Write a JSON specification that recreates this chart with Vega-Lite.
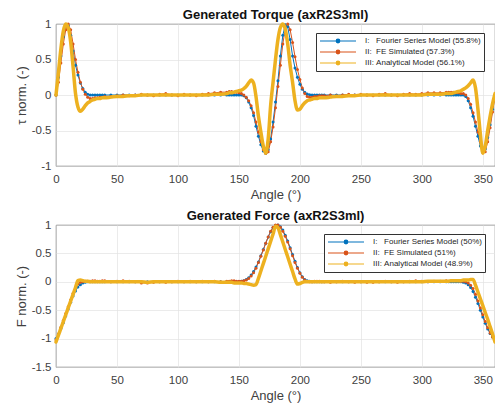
{
 "$schema": "https://vega.github.io/schema/vega-lite/v6.json",
 "padding": {"left": 14, "top": 8, "right": 1, "bottom": 0},
 "background": "white",
 "spacing": 7,
 "config": {
  "font": "Liberation Sans",
  "view": {"stroke": "#333333", "strokeWidth": 0.8},
  "axis": {"grid": true, "gridColor": "#e3e3e3", "gridWidth": 0.7, "domain": false, "ticks": false, "labelFont": "Liberation Sans", "labelFontSize": 11.5, "labelColor": "#404040", "labelPadding": 7, "labelFlush": false, "labelOverlap": false, "titleFont": "Liberation Sans", "titleFontSize": 13, "titleFontWeight": "normal", "titleColor": "#404040"},
  "axisX": {"titlePadding": 4},
  "axisY": {"titlePadding": 3, "labelPadding": 5},
  "title": {"font": "Liberation Sans", "fontSize": 13, "fontWeight": "bold", "color": "#111111", "offset": -4, "frame": "group"},
  "legend": {"orient": "none", "legendY": 9, "title": null, "symbolType": "M-4.5,0H4.5M0.45,0A0.45,0.45,0,1,1,-0.45,0A0.45,0.45,0,1,1,0.45,0M0.22,0A0.22,0.22,0,1,1,-0.22,0A0.22,0.22,0,1,1,0.22,0", "symbolSize": 64, "symbolStrokeWidth": 1.2, "symbolOffset": 14, "labelOffset": 22, "labelFontSize": 8, "labelFont": "Liberation Sans", "labelColor": "#262626", "strokeColor": "#333333", "fillColor": "white", "padding": 3, "rowPadding": 1}
 },
 "datasets": {
  "t": [
   {"s":"I","x":0,"v":0},{"s":"I","x":2,"v":0.25},{"s":"I","x":4,"v":0.55},{"s":"I","x":6,"v":0.82},{"s":"I","x":8,"v":0.98},{"s":"I","x":10,"v":0.98},{"s":"I","x":12,"v":0.84},{"s":"I","x":14,"v":0.62},{"s":"I","x":16,"v":0.42},{"s":"I","x":18,"v":0.28},{"s":"I","x":20,"v":0.17},{"s":"I","x":22,"v":0.09},{"s":"I","x":24,"v":0.04},{"s":"I","x":26,"v":0.01},{"s":"I","x":28,"v":0},{"s":"I","x":30,"v":0},{"s":"I","x":32,"v":0},{"s":"I","x":34,"v":0},{"s":"I","x":36,"v":0},{"s":"I","x":38,"v":0},{"s":"I","x":40,"v":0},
   {"s":"I","x":45,"v":0},{"s":"I","x":50,"v":0},{"s":"I","x":55,"v":0},{"s":"I","x":60,"v":0},{"s":"I","x":65,"v":0},{"s":"I","x":70,"v":0},{"s":"I","x":75,"v":0},{"s":"I","x":80,"v":0},{"s":"I","x":85,"v":0},{"s":"I","x":90,"v":0},{"s":"I","x":95,"v":0},{"s":"I","x":100,"v":0},{"s":"I","x":105,"v":0},{"s":"I","x":110,"v":0},{"s":"I","x":115,"v":0},{"s":"I","x":120,"v":0},{"s":"I","x":125,"v":0},{"s":"I","x":130,"v":0},{"s":"I","x":135,"v":0},
   {"s":"I","x":140,"v":0},{"s":"I","x":142,"v":0},{"s":"I","x":144,"v":0},{"s":"I","x":146,"v":0},{"s":"I","x":148,"v":0},{"s":"I","x":150,"v":0},{"s":"I","x":152,"v":0},{"s":"I","x":154,"v":-0.01},{"s":"I","x":156,"v":-0.04},{"s":"I","x":158,"v":-0.1},{"s":"I","x":160,"v":-0.18},{"s":"I","x":162,"v":-0.29},{"s":"I","x":164,"v":-0.44},{"s":"I","x":166,"v":-0.58},{"s":"I","x":168,"v":-0.7},{"s":"I","x":170,"v":-0.79},{"s":"I","x":172,"v":-0.82},{"s":"I","x":174,"v":-0.77},{"s":"I","x":176,"v":-0.62},{"s":"I","x":178,"v":-0.38},{"s":"I","x":180,"v":-0.1},{"s":"I","x":182,"v":0.2},{"s":"I","x":184,"v":0.55},{"s":"I","x":186,"v":0.84},{"s":"I","x":188,"v":0.99},{"s":"I","x":190,"v":0.96},{"s":"I","x":192,"v":0.78},{"s":"I","x":194,"v":0.55},{"s":"I","x":196,"v":0.38},{"s":"I","x":198,"v":0.25},{"s":"I","x":200,"v":0.15},{"s":"I","x":202,"v":0.08},{"s":"I","x":204,"v":0.04},{"s":"I","x":206,"v":0.015},{"s":"I","x":208,"v":0.005},{"s":"I","x":210,"v":0},{"s":"I","x":212,"v":0},{"s":"I","x":214,"v":0},{"s":"I","x":216,"v":0},{"s":"I","x":218,"v":0},{"s":"I","x":220,"v":0},
   {"s":"I","x":225,"v":0},{"s":"I","x":230,"v":0},{"s":"I","x":235,"v":0},{"s":"I","x":240,"v":0},{"s":"I","x":245,"v":0},{"s":"I","x":250,"v":0},{"s":"I","x":255,"v":0},{"s":"I","x":260,"v":0},{"s":"I","x":265,"v":0},{"s":"I","x":270,"v":0},{"s":"I","x":275,"v":0},{"s":"I","x":280,"v":0},{"s":"I","x":285,"v":0},{"s":"I","x":290,"v":0},{"s":"I","x":295,"v":0},{"s":"I","x":300,"v":0},{"s":"I","x":305,"v":0},{"s":"I","x":310,"v":0},{"s":"I","x":315,"v":0},
   {"s":"I","x":320,"v":0},{"s":"I","x":322,"v":0},{"s":"I","x":324,"v":0},{"s":"I","x":326,"v":0},{"s":"I","x":328,"v":0},{"s":"I","x":330,"v":0},{"s":"I","x":332,"v":0},{"s":"I","x":334,"v":0},{"s":"I","x":336,"v":-0.02},{"s":"I","x":338,"v":-0.08},{"s":"I","x":340,"v":-0.18},{"s":"I","x":342,"v":-0.3},{"s":"I","x":344,"v":-0.44},{"s":"I","x":346,"v":-0.58},{"s":"I","x":348,"v":-0.72},{"s":"I","x":350,"v":-0.81},{"s":"I","x":352,"v":-0.76},{"s":"I","x":354,"v":-0.6},{"s":"I","x":356,"v":-0.42},{"s":"I","x":358,"v":-0.2},{"s":"I","x":360,"v":0},

   {"s":"II","x":0,"v":0},{"s":"II","x":2,"v":0.18},{"s":"II","x":4,"v":0.45},{"s":"II","x":6,"v":0.72},{"s":"II","x":8,"v":0.92},{"s":"II","x":10,"v":1.0},{"s":"II","x":12,"v":0.92},{"s":"II","x":14,"v":0.72},{"s":"II","x":16,"v":0.5},{"s":"II","x":18,"v":0.32},{"s":"II","x":20,"v":0.18},{"s":"II","x":22,"v":0.08},{"s":"II","x":24,"v":0.01},{"s":"II","x":26,"v":-0.03},{"s":"II","x":28,"v":-0.05},{"s":"II","x":30,"v":-0.05},{"s":"II","x":32,"v":-0.04},{"s":"II","x":34,"v":-0.04},{"s":"II","x":36,"v":-0.03},{"s":"II","x":38,"v":-0.03},{"s":"II","x":40,"v":-0.02},
   {"s":"II","x":45,"v":-0.02},{"s":"II","x":50,"v":-0.01},{"s":"II","x":55,"v":0},{"s":"II","x":60,"v":-0.01},{"s":"II","x":65,"v":0},{"s":"II","x":70,"v":0.01},{"s":"II","x":75,"v":0},{"s":"II","x":80,"v":-0.01},{"s":"II","x":85,"v":0.01},{"s":"II","x":90,"v":0.02},{"s":"II","x":95,"v":0},{"s":"II","x":100,"v":-0.01},{"s":"II","x":105,"v":0.01},{"s":"II","x":110,"v":0},{"s":"II","x":115,"v":-0.01},{"s":"II","x":120,"v":0.01},{"s":"II","x":125,"v":0.02},{"s":"II","x":130,"v":0.03},{"s":"II","x":135,"v":0.04},
   {"s":"II","x":140,"v":0.04},{"s":"II","x":142,"v":0.05},{"s":"II","x":144,"v":0.05},{"s":"II","x":146,"v":0.04},{"s":"II","x":148,"v":0.04},{"s":"II","x":150,"v":0.03},{"s":"II","x":152,"v":0.02},{"s":"II","x":154,"v":0},{"s":"II","x":156,"v":-0.03},{"s":"II","x":158,"v":-0.08},{"s":"II","x":160,"v":-0.15},{"s":"II","x":162,"v":-0.25},{"s":"II","x":164,"v":-0.38},{"s":"II","x":166,"v":-0.52},{"s":"II","x":168,"v":-0.66},{"s":"II","x":170,"v":-0.77},{"s":"II","x":172,"v":-0.82},{"s":"II","x":174,"v":-0.8},{"s":"II","x":176,"v":-0.66},{"s":"II","x":178,"v":-0.45},{"s":"II","x":180,"v":-0.18},{"s":"II","x":182,"v":0.12},{"s":"II","x":184,"v":0.42},{"s":"II","x":186,"v":0.72},{"s":"II","x":188,"v":0.93},{"s":"II","x":190,"v":1.0},{"s":"II","x":192,"v":0.92},{"s":"II","x":194,"v":0.74},{"s":"II","x":196,"v":0.54},{"s":"II","x":198,"v":0.36},{"s":"II","x":200,"v":0.22},{"s":"II","x":202,"v":0.1},{"s":"II","x":204,"v":0.02},{"s":"II","x":206,"v":-0.02},{"s":"II","x":208,"v":-0.03},{"s":"II","x":210,"v":-0.03},{"s":"II","x":212,"v":-0.02},{"s":"II","x":214,"v":-0.02},{"s":"II","x":216,"v":-0.01},{"s":"II","x":218,"v":-0.01},{"s":"II","x":220,"v":-0.01},
   {"s":"II","x":225,"v":0},{"s":"II","x":230,"v":-0.01},{"s":"II","x":235,"v":0},{"s":"II","x":240,"v":0.01},{"s":"II","x":245,"v":0},{"s":"II","x":250,"v":0.01},{"s":"II","x":255,"v":0},{"s":"II","x":260,"v":-0.01},{"s":"II","x":265,"v":0.01},{"s":"II","x":270,"v":0.02},{"s":"II","x":275,"v":0},{"s":"II","x":280,"v":-0.01},{"s":"II","x":285,"v":0.01},{"s":"II","x":290,"v":0.02},{"s":"II","x":295,"v":0.01},{"s":"II","x":300,"v":0.02},{"s":"II","x":305,"v":0.03},{"s":"II","x":310,"v":0.03},{"s":"II","x":315,"v":0.03},
   {"s":"II","x":320,"v":0.04},{"s":"II","x":322,"v":0.04},{"s":"II","x":324,"v":0.04},{"s":"II","x":326,"v":0.04},{"s":"II","x":328,"v":0.03},{"s":"II","x":330,"v":0.03},{"s":"II","x":332,"v":0.02},{"s":"II","x":334,"v":0.02},{"s":"II","x":336,"v":0},{"s":"II","x":338,"v":-0.05},{"s":"II","x":340,"v":-0.13},{"s":"II","x":342,"v":-0.25},{"s":"II","x":344,"v":-0.38},{"s":"II","x":346,"v":-0.52},{"s":"II","x":348,"v":-0.66},{"s":"II","x":350,"v":-0.78},{"s":"II","x":352,"v":-0.8},{"s":"II","x":354,"v":-0.66},{"s":"II","x":356,"v":-0.46},{"s":"II","x":358,"v":-0.24},{"s":"II","x":360,"v":-0.02},

   {"s":"III","x":0,"v":0},{"s":"III","x":2,"v":0.32},{"s":"III","x":4,"v":0.65},{"s":"III","x":6,"v":0.9},{"s":"III","x":8,"v":1.0},{"s":"III","x":10,"v":0.95},{"s":"III","x":12,"v":0.75},{"s":"III","x":14,"v":0.4},{"s":"III","x":16,"v":0.02},{"s":"III","x":18,"v":-0.17},{"s":"III","x":20,"v":-0.23},{"s":"III","x":22,"v":-0.2},{"s":"III","x":24,"v":-0.15},{"s":"III","x":26,"v":-0.11},{"s":"III","x":28,"v":-0.09},{"s":"III","x":30,"v":-0.07},{"s":"III","x":32,"v":-0.06},{"s":"III","x":34,"v":-0.05},{"s":"III","x":36,"v":-0.05},{"s":"III","x":38,"v":-0.04},{"s":"III","x":40,"v":-0.04},
   {"s":"III","x":45,"v":-0.03},{"s":"III","x":50,"v":-0.02},{"s":"III","x":55,"v":-0.02},{"s":"III","x":60,"v":-0.01},{"s":"III","x":65,"v":-0.01},{"s":"III","x":70,"v":0},{"s":"III","x":75,"v":0},{"s":"III","x":80,"v":0},{"s":"III","x":85,"v":0},{"s":"III","x":90,"v":0},{"s":"III","x":95,"v":0},{"s":"III","x":100,"v":0},{"s":"III","x":105,"v":0},{"s":"III","x":110,"v":0},{"s":"III","x":115,"v":0},{"s":"III","x":120,"v":0},{"s":"III","x":125,"v":0},{"s":"III","x":130,"v":0.01},{"s":"III","x":135,"v":0.01},
   {"s":"III","x":140,"v":0.02},{"s":"III","x":142,"v":0.03},{"s":"III","x":144,"v":0.03},{"s":"III","x":146,"v":0.04},{"s":"III","x":148,"v":0.05},{"s":"III","x":150,"v":0.06},{"s":"III","x":152,"v":0.07},{"s":"III","x":154,"v":0.09},{"s":"III","x":156,"v":0.12},{"s":"III","x":158,"v":0.17},{"s":"III","x":160,"v":0.21},{"s":"III","x":162,"v":0.17},{"s":"III","x":164,"v":-0.02},{"s":"III","x":166,"v":-0.3},{"s":"III","x":168,"v":-0.52},{"s":"III","x":170,"v":-0.72},{"s":"III","x":172,"v":-0.82},{"s":"III","x":174,"v":-0.62},{"s":"III","x":176,"v":-0.15},{"s":"III","x":178,"v":0.18},{"s":"III","x":180,"v":0.5},{"s":"III","x":182,"v":0.78},{"s":"III","x":184,"v":0.95},{"s":"III","x":186,"v":1.0},{"s":"III","x":188,"v":0.93},{"s":"III","x":190,"v":0.72},{"s":"III","x":192,"v":0.42},{"s":"III","x":194,"v":0.18},{"s":"III","x":196,"v":-0.08},{"s":"III","x":198,"v":-0.21},{"s":"III","x":200,"v":-0.2},{"s":"III","x":202,"v":-0.15},{"s":"III","x":204,"v":-0.11},{"s":"III","x":206,"v":-0.08},{"s":"III","x":208,"v":-0.07},{"s":"III","x":210,"v":-0.06},{"s":"III","x":212,"v":-0.05},{"s":"III","x":214,"v":-0.05},{"s":"III","x":216,"v":-0.04},{"s":"III","x":218,"v":-0.04},{"s":"III","x":220,"v":-0.04},
   {"s":"III","x":225,"v":-0.03},{"s":"III","x":230,"v":-0.02},{"s":"III","x":235,"v":-0.02},{"s":"III","x":240,"v":-0.01},{"s":"III","x":245,"v":-0.01},{"s":"III","x":250,"v":0},{"s":"III","x":255,"v":0},{"s":"III","x":260,"v":0},{"s":"III","x":265,"v":0},{"s":"III","x":270,"v":0},{"s":"III","x":275,"v":0},{"s":"III","x":280,"v":0},{"s":"III","x":285,"v":0},{"s":"III","x":290,"v":0},{"s":"III","x":295,"v":0},{"s":"III","x":300,"v":0},{"s":"III","x":305,"v":0.01},{"s":"III","x":310,"v":0.01},{"s":"III","x":315,"v":0.01},
   {"s":"III","x":320,"v":0.02},{"s":"III","x":322,"v":0.02},{"s":"III","x":324,"v":0.02},{"s":"III","x":326,"v":0.03},{"s":"III","x":328,"v":0.04},{"s":"III","x":330,"v":0.05},{"s":"III","x":332,"v":0.06},{"s":"III","x":334,"v":0.08},{"s":"III","x":336,"v":0.1},{"s":"III","x":338,"v":0.13},{"s":"III","x":340,"v":0.17},{"s":"III","x":342,"v":0.21},{"s":"III","x":344,"v":0.1},{"s":"III","x":346,"v":-0.2},{"s":"III","x":348,"v":-0.55},{"s":"III","x":350,"v":-0.82},{"s":"III","x":352,"v":-0.72},{"s":"III","x":354,"v":-0.5},{"s":"III","x":356,"v":-0.3},{"s":"III","x":358,"v":-0.12},{"s":"III","x":360,"v":0.02}
  ],
  "f": [
   {"s":"I","x":0,"v":-1.0},{"s":"I","x":2,"v":-0.92},{"s":"I","x":4,"v":-0.82},{"s":"I","x":6,"v":-0.72},{"s":"I","x":8,"v":-0.6},{"s":"I","x":10,"v":-0.48},{"s":"I","x":12,"v":-0.36},{"s":"I","x":14,"v":-0.25},{"s":"I","x":16,"v":-0.16},{"s":"I","x":18,"v":-0.09},{"s":"I","x":20,"v":-0.05},{"s":"I","x":22,"v":-0.02},{"s":"I","x":24,"v":-0.01},{"s":"I","x":26,"v":0},{"s":"I","x":28,"v":0},{"s":"I","x":30,"v":0},{"s":"I","x":32,"v":0},{"s":"I","x":34,"v":0},{"s":"I","x":36,"v":0},{"s":"I","x":38,"v":0},{"s":"I","x":40,"v":0},
   {"s":"I","x":45,"v":0},{"s":"I","x":50,"v":0},{"s":"I","x":55,"v":0},{"s":"I","x":60,"v":0},{"s":"I","x":65,"v":0},{"s":"I","x":70,"v":0},{"s":"I","x":75,"v":0},{"s":"I","x":80,"v":0},{"s":"I","x":85,"v":0},{"s":"I","x":90,"v":0},{"s":"I","x":95,"v":0},{"s":"I","x":100,"v":0},{"s":"I","x":105,"v":0},{"s":"I","x":110,"v":0},{"s":"I","x":115,"v":0},{"s":"I","x":120,"v":0},{"s":"I","x":125,"v":0},{"s":"I","x":130,"v":0},{"s":"I","x":135,"v":0},
   {"s":"I","x":140,"v":0},{"s":"I","x":142,"v":0},{"s":"I","x":144,"v":0},{"s":"I","x":146,"v":0},{"s":"I","x":148,"v":0},{"s":"I","x":150,"v":0},{"s":"I","x":152,"v":0.01},{"s":"I","x":154,"v":0.02},{"s":"I","x":156,"v":0.04},{"s":"I","x":158,"v":0.07},{"s":"I","x":160,"v":0.12},{"s":"I","x":162,"v":0.18},{"s":"I","x":164,"v":0.26},{"s":"I","x":166,"v":0.35},{"s":"I","x":168,"v":0.46},{"s":"I","x":170,"v":0.57},{"s":"I","x":172,"v":0.68},{"s":"I","x":174,"v":0.79},{"s":"I","x":176,"v":0.88},{"s":"I","x":178,"v":0.95},{"s":"I","x":180,"v":0.99},{"s":"I","x":182,"v":1.0},{"s":"I","x":184,"v":0.97},{"s":"I","x":186,"v":0.91},{"s":"I","x":188,"v":0.82},{"s":"I","x":190,"v":0.72},{"s":"I","x":192,"v":0.6},{"s":"I","x":194,"v":0.48},{"s":"I","x":196,"v":0.36},{"s":"I","x":198,"v":0.25},{"s":"I","x":200,"v":0.16},{"s":"I","x":202,"v":0.09},{"s":"I","x":204,"v":0.04},{"s":"I","x":206,"v":0.02},{"s":"I","x":208,"v":0.01},{"s":"I","x":210,"v":0},{"s":"I","x":212,"v":0},{"s":"I","x":214,"v":0},{"s":"I","x":216,"v":0},{"s":"I","x":218,"v":0},{"s":"I","x":220,"v":0},
   {"s":"I","x":225,"v":0},{"s":"I","x":230,"v":0},{"s":"I","x":235,"v":0},{"s":"I","x":240,"v":0},{"s":"I","x":245,"v":0},{"s":"I","x":250,"v":0},{"s":"I","x":255,"v":0},{"s":"I","x":260,"v":0},{"s":"I","x":265,"v":0},{"s":"I","x":270,"v":0},{"s":"I","x":275,"v":0},{"s":"I","x":280,"v":0},{"s":"I","x":285,"v":0},{"s":"I","x":290,"v":0},{"s":"I","x":295,"v":0},{"s":"I","x":300,"v":0},{"s":"I","x":305,"v":0},{"s":"I","x":310,"v":0},{"s":"I","x":315,"v":0},
   {"s":"I","x":320,"v":0},{"s":"I","x":322,"v":0},{"s":"I","x":324,"v":0},{"s":"I","x":326,"v":0},{"s":"I","x":328,"v":0},{"s":"I","x":330,"v":0},{"s":"I","x":332,"v":0},{"s":"I","x":334,"v":-0.01},{"s":"I","x":336,"v":-0.02},{"s":"I","x":338,"v":-0.05},{"s":"I","x":340,"v":-0.1},{"s":"I","x":342,"v":-0.17},{"s":"I","x":344,"v":-0.27},{"s":"I","x":346,"v":-0.38},{"s":"I","x":348,"v":-0.5},{"s":"I","x":350,"v":-0.62},{"s":"I","x":352,"v":-0.73},{"s":"I","x":354,"v":-0.83},{"s":"I","x":356,"v":-0.91},{"s":"I","x":358,"v":-0.97},{"s":"I","x":360,"v":-1.0},

   {"s":"II","x":0,"v":-1.02},{"s":"II","x":2,"v":-0.92},{"s":"II","x":4,"v":-0.8},{"s":"II","x":6,"v":-0.68},{"s":"II","x":8,"v":-0.56},{"s":"II","x":10,"v":-0.44},{"s":"II","x":12,"v":-0.32},{"s":"II","x":14,"v":-0.2},{"s":"II","x":16,"v":-0.1},{"s":"II","x":18,"v":-0.04},{"s":"II","x":20,"v":-0.01},{"s":"II","x":22,"v":0},{"s":"II","x":24,"v":0.01},{"s":"II","x":26,"v":0.01},{"s":"II","x":28,"v":0.01},{"s":"II","x":30,"v":0.02},{"s":"II","x":32,"v":0.02},{"s":"II","x":34,"v":0.01},{"s":"II","x":36,"v":0.01},{"s":"II","x":38,"v":0.02},{"s":"II","x":40,"v":0.02},
   {"s":"II","x":45,"v":0},{"s":"II","x":50,"v":0.01},{"s":"II","x":55,"v":0.02},{"s":"II","x":60,"v":0.01},{"s":"II","x":65,"v":0},{"s":"II","x":70,"v":-0.02},{"s":"II","x":75,"v":-0.02},{"s":"II","x":80,"v":-0.01},{"s":"II","x":85,"v":0},{"s":"II","x":90,"v":-0.01},{"s":"II","x":95,"v":0},{"s":"II","x":100,"v":0.01},{"s":"II","x":105,"v":0},{"s":"II","x":110,"v":0.01},{"s":"II","x":115,"v":0},{"s":"II","x":120,"v":0.01},{"s":"II","x":125,"v":0},{"s":"II","x":130,"v":0.01},{"s":"II","x":135,"v":0},
   {"s":"II","x":140,"v":0.01},{"s":"II","x":142,"v":0.01},{"s":"II","x":144,"v":0.02},{"s":"II","x":146,"v":0.02},{"s":"II","x":148,"v":0.01},{"s":"II","x":150,"v":0.01},{"s":"II","x":152,"v":0.01},{"s":"II","x":154,"v":0.02},{"s":"II","x":156,"v":0.03},{"s":"II","x":158,"v":0.06},{"s":"II","x":160,"v":0.1},{"s":"II","x":162,"v":0.16},{"s":"II","x":164,"v":0.24},{"s":"II","x":166,"v":0.34},{"s":"II","x":168,"v":0.45},{"s":"II","x":170,"v":0.56},{"s":"II","x":172,"v":0.68},{"s":"II","x":174,"v":0.79},{"s":"II","x":176,"v":0.89},{"s":"II","x":178,"v":0.96},{"s":"II","x":180,"v":1.0},{"s":"II","x":182,"v":1.0},{"s":"II","x":184,"v":0.96},{"s":"II","x":186,"v":0.89},{"s":"II","x":188,"v":0.8},{"s":"II","x":190,"v":0.7},{"s":"II","x":192,"v":0.58},{"s":"II","x":194,"v":0.46},{"s":"II","x":196,"v":0.34},{"s":"II","x":198,"v":0.24},{"s":"II","x":200,"v":0.15},{"s":"II","x":202,"v":0.08},{"s":"II","x":204,"v":0.03},{"s":"II","x":206,"v":0.01},{"s":"II","x":208,"v":0},{"s":"II","x":210,"v":0},{"s":"II","x":212,"v":0.01},{"s":"II","x":214,"v":0.01},{"s":"II","x":216,"v":0.01},{"s":"II","x":218,"v":0},{"s":"II","x":220,"v":0},
   {"s":"II","x":225,"v":-0.01},{"s":"II","x":230,"v":0},{"s":"II","x":235,"v":0.01},{"s":"II","x":240,"v":0},{"s":"II","x":245,"v":-0.01},{"s":"II","x":250,"v":0},{"s":"II","x":255,"v":-0.01},{"s":"II","x":260,"v":-0.01},{"s":"II","x":265,"v":0},{"s":"II","x":270,"v":0.01},{"s":"II","x":275,"v":0},{"s":"II","x":280,"v":-0.01},{"s":"II","x":285,"v":0},{"s":"II","x":290,"v":0.01},{"s":"II","x":295,"v":0.02},{"s":"II","x":300,"v":0.01},{"s":"II","x":305,"v":0},{"s":"II","x":310,"v":0.01},{"s":"II","x":315,"v":0.01},
   {"s":"II","x":320,"v":0.02},{"s":"II","x":322,"v":0.01},{"s":"II","x":324,"v":0.02},{"s":"II","x":326,"v":0.02},{"s":"II","x":328,"v":0.02},{"s":"II","x":330,"v":0.02},{"s":"II","x":332,"v":0.01},{"s":"II","x":334,"v":0.01},{"s":"II","x":336,"v":0},{"s":"II","x":338,"v":-0.02},{"s":"II","x":340,"v":-0.06},{"s":"II","x":342,"v":-0.12},{"s":"II","x":344,"v":-0.22},{"s":"II","x":346,"v":-0.34},{"s":"II","x":348,"v":-0.46},{"s":"II","x":350,"v":-0.58},{"s":"II","x":352,"v":-0.7},{"s":"II","x":354,"v":-0.81},{"s":"II","x":356,"v":-0.9},{"s":"II","x":358,"v":-0.97},{"s":"II","x":360,"v":-1.02},

   {"s":"III","x":0,"v":-1.06},{"s":"III","x":2,"v":-0.94},{"s":"III","x":4,"v":-0.82},{"s":"III","x":6,"v":-0.7},{"s":"III","x":8,"v":-0.58},{"s":"III","x":10,"v":-0.46},{"s":"III","x":12,"v":-0.34},{"s":"III","x":14,"v":-0.22},{"s":"III","x":16,"v":-0.1},{"s":"III","x":18,"v":0.02},{"s":"III","x":20,"v":0.03},{"s":"III","x":22,"v":0.02},{"s":"III","x":24,"v":0.01},{"s":"III","x":26,"v":0.01},{"s":"III","x":28,"v":0},{"s":"III","x":30,"v":0},{"s":"III","x":32,"v":0},{"s":"III","x":34,"v":0},{"s":"III","x":36,"v":0},{"s":"III","x":38,"v":0},{"s":"III","x":40,"v":0},
   {"s":"III","x":45,"v":0},{"s":"III","x":50,"v":0},{"s":"III","x":55,"v":0},{"s":"III","x":60,"v":0},{"s":"III","x":65,"v":0},{"s":"III","x":70,"v":0},{"s":"III","x":75,"v":-0.01},{"s":"III","x":80,"v":0},{"s":"III","x":85,"v":0},{"s":"III","x":90,"v":0},{"s":"III","x":95,"v":0},{"s":"III","x":100,"v":0},{"s":"III","x":105,"v":0},{"s":"III","x":110,"v":0},{"s":"III","x":115,"v":0},{"s":"III","x":120,"v":0},{"s":"III","x":125,"v":0},{"s":"III","x":130,"v":0},{"s":"III","x":135,"v":-0.01},
   {"s":"III","x":140,"v":-0.01},{"s":"III","x":142,"v":-0.01},{"s":"III","x":144,"v":-0.01},{"s":"III","x":146,"v":-0.02},{"s":"III","x":148,"v":-0.02},{"s":"III","x":150,"v":-0.02},{"s":"III","x":152,"v":-0.02},{"s":"III","x":154,"v":-0.03},{"s":"III","x":156,"v":-0.03},{"s":"III","x":158,"v":-0.04},{"s":"III","x":160,"v":-0.05},{"s":"III","x":162,"v":-0.06},{"s":"III","x":164,"v":-0.05},{"s":"III","x":166,"v":0.06},{"s":"III","x":168,"v":0.19},{"s":"III","x":170,"v":0.32},{"s":"III","x":172,"v":0.45},{"s":"III","x":174,"v":0.58},{"s":"III","x":176,"v":0.71},{"s":"III","x":178,"v":0.84},{"s":"III","x":180,"v":0.98},{"s":"III","x":182,"v":0.95},{"s":"III","x":184,"v":0.83},{"s":"III","x":186,"v":0.7},{"s":"III","x":188,"v":0.57},{"s":"III","x":190,"v":0.44},{"s":"III","x":192,"v":0.31},{"s":"III","x":194,"v":0.18},{"s":"III","x":196,"v":0.05},{"s":"III","x":198,"v":-0.04},{"s":"III","x":200,"v":-0.03},{"s":"III","x":202,"v":-0.01},{"s":"III","x":204,"v":0},{"s":"III","x":206,"v":0},{"s":"III","x":208,"v":0},{"s":"III","x":210,"v":0},{"s":"III","x":212,"v":0},{"s":"III","x":214,"v":0},{"s":"III","x":216,"v":0},{"s":"III","x":218,"v":0},{"s":"III","x":220,"v":0},
   {"s":"III","x":225,"v":0},{"s":"III","x":230,"v":0},{"s":"III","x":235,"v":0},{"s":"III","x":240,"v":0},{"s":"III","x":245,"v":0},{"s":"III","x":250,"v":0},{"s":"III","x":255,"v":0},{"s":"III","x":260,"v":0},{"s":"III","x":265,"v":0},{"s":"III","x":270,"v":0},{"s":"III","x":275,"v":0},{"s":"III","x":280,"v":0},{"s":"III","x":285,"v":0},{"s":"III","x":290,"v":0},{"s":"III","x":295,"v":0},{"s":"III","x":300,"v":0},{"s":"III","x":305,"v":0.01},{"s":"III","x":310,"v":0.01},{"s":"III","x":315,"v":0.01},
   {"s":"III","x":320,"v":0.01},{"s":"III","x":322,"v":0.01},{"s":"III","x":324,"v":0.02},{"s":"III","x":326,"v":0.02},{"s":"III","x":328,"v":0.02},{"s":"III","x":330,"v":0.02},{"s":"III","x":332,"v":0.02},{"s":"III","x":334,"v":0.03},{"s":"III","x":336,"v":0.03},{"s":"III","x":338,"v":0.03},{"s":"III","x":340,"v":0.04},{"s":"III","x":342,"v":0.04},{"s":"III","x":344,"v":-0.06},{"s":"III","x":346,"v":-0.18},{"s":"III","x":348,"v":-0.3},{"s":"III","x":350,"v":-0.42},{"s":"III","x":352,"v":-0.54},{"s":"III","x":354,"v":-0.66},{"s":"III","x":356,"v":-0.79},{"s":"III","x":358,"v":-0.92},{"s":"III","x":360,"v":-1.06}
  ]
 },
 "vconcat": [
  {
   "title": "Generated Torque (axR2S3ml)",
   "width": 439, "height": 142,
   "data": {"name": "t"},
   "encoding": {
    "x": {"field": "x", "type": "quantitative", "scale": {"domain": [0, 360], "nice": false}, "axis": {"values": [0, 50, 100, 150, 200, 250, 300, 350], "title": "Angle (°)"}},
    "y": {"field": "v", "type": "quantitative", "scale": {"domain": [-1, 1], "nice": false}, "axis": {"values": [-1, -0.5, 0, 0.5, 1], "title": "τ norm. (-)", "labelExpr": "'' + datum.value"}},
    "color": {"field": "s", "type": "nominal", "scale": {"domain": ["I", "II", "III"], "range": ["#0072BD", "#D95319", "#EDB120"]}, "legend": {"legendX": 260, "labelExpr": "datum.label == 'I' ? 'I:\u00a0\u00a0\u00a0Fourier Series Model (55.8%)' : datum.label == 'II' ? 'II:\u00a0\u00a0FE Simulated (57.3%)' : 'III:\u00a0Analytical Model (56.1%)'"}}
   },
   "layer": [
    {"transform": [{"filter": "datum.s != 'III'"}], "mark": {"type": "line", "strokeWidth": 1, "point": {"filled": true, "size": 9}}},
    {"transform": [{"filter": "datum.s == 'III'"}], "mark": {"type": "line", "strokeWidth": 3.5, "interpolate": "monotone", "strokeCap": "round", "strokeJoin": "round"}}
   ]
  },
  {
   "title": "Generated Force (axR2S3ml)",
   "width": 439, "height": 142,
   "data": {"name": "f"},
   "encoding": {
    "x": {"field": "x", "type": "quantitative", "scale": {"domain": [0, 360], "nice": false}, "axis": {"values": [0, 50, 100, 150, 200, 250, 300, 350], "title": "Angle (°)"}},
    "y": {"field": "v", "type": "quantitative", "scale": {"domain": [-1.5, 1], "nice": false}, "axis": {"values": [-1.5, -1, -0.5, 0, 0.5, 1], "title": "F norm. (-)", "labelExpr": "'' + datum.value"}},
    "color": {"field": "s", "type": "nominal", "scale": {"domain": ["I", "II", "III"], "range": ["#0072BD", "#D95319", "#EDB120"]}, "legend": {"legendX": 268, "labelExpr": "datum.label == 'I' ? 'I:\u00a0\u00a0\u00a0Fourier Series Model (50%)' : datum.label == 'II' ? 'II:\u00a0\u00a0FE Simulated (51%)' : 'III:\u00a0Analytical Model (48.9%)'"}}
   },
   "layer": [
    {"transform": [{"filter": "datum.s != 'III'"}], "mark": {"type": "line", "strokeWidth": 1, "point": {"filled": true, "size": 9}}},
    {"transform": [{"filter": "datum.s == 'III'"}], "mark": {"type": "line", "strokeWidth": 3.5, "interpolate": "monotone", "strokeCap": "round", "strokeJoin": "round"}}
   ]
  }
 ],
 "resolve": {"scale": {"color": "independent"}, "legend": {"color": "independent"}}
}
